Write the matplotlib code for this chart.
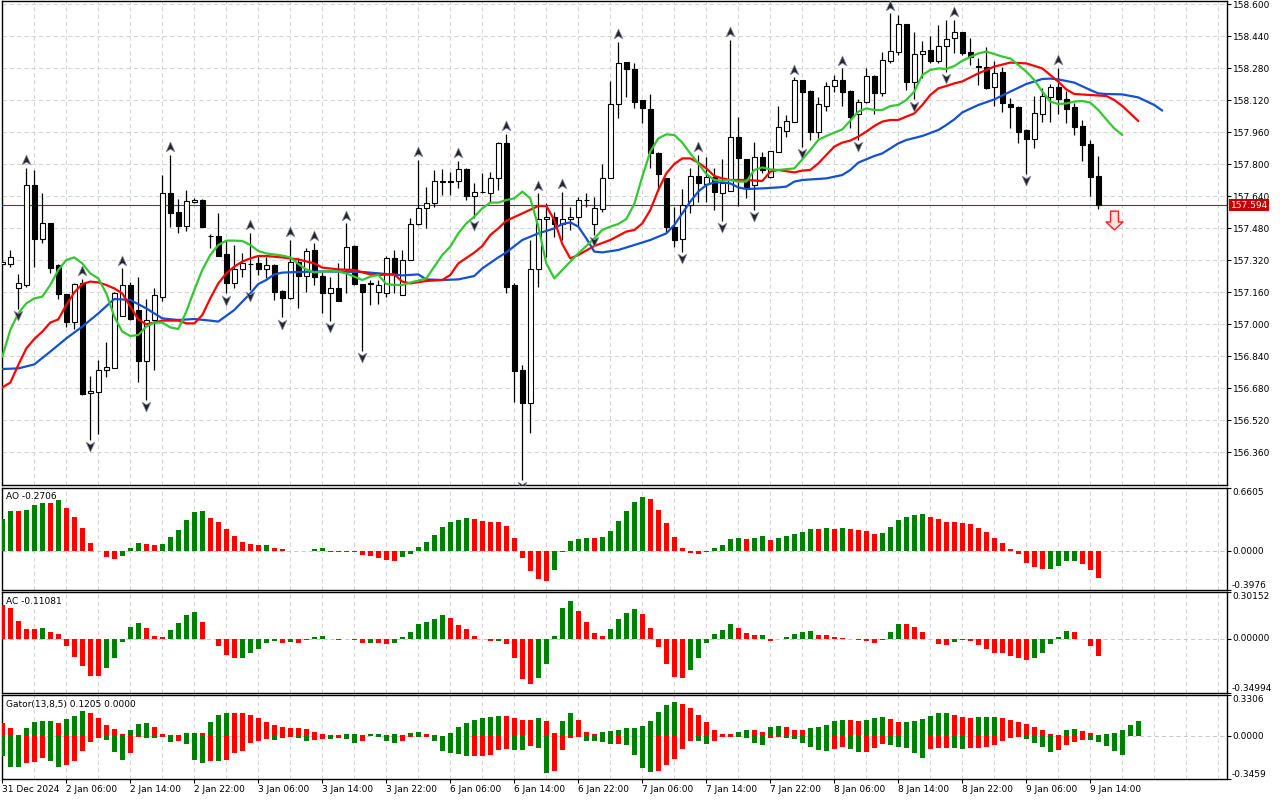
import matplotlib
matplotlib.use("Agg")
import matplotlib.pyplot as plt
from matplotlib.path import Path

plt.rcParams['font.family'] = ['DejaVu Sans']
FS = 6.5

# ---------------- data ----------------
opens = [157.300, 157.298, 157.178, 157.195, 157.695, 157.423, 157.503, 157.295, 157.150, 157.012,
         157.203, 156.653, 156.662, 156.770, 156.782, 157.042, 157.195, 157.070, 156.817, 157.020,
         157.137, 157.657, 157.562, 157.492, 157.608, 157.620, 157.442, 157.440, 157.350, 157.203,
         157.273, 157.300, 157.303, 157.273, 157.295, 157.165, 157.128, 157.308, 157.242, 157.370,
         157.240, 157.153, 157.178, 157.273, 157.390, 157.198, 157.205, 157.158, 157.153, 157.328,
         157.145, 157.320, 157.498, 157.578, 157.607, 157.712, 157.713, 157.715, 157.773, 157.642,
         157.660, 157.657, 157.732, 157.903, 157.195, 156.770, 156.603, 157.273, 157.523, 157.537,
         157.500, 157.525, 157.537, 157.620, 157.500, 157.573, 157.728, 158.098, 158.308, 158.275,
         158.120, 158.073, 157.857, 157.728, 157.483, 157.423, 157.595, 157.740, 157.700, 157.737,
         157.657, 157.667, 157.937, 157.823, 157.695, 157.837, 157.737, 157.862, 157.967, 158.012,
         158.220, 158.167, 157.962, 158.090, 158.190, 158.220, 158.167, 158.050, 158.108, 158.242,
         158.153, 158.317, 158.360, 158.500, 158.212, 158.350, 158.370, 158.317, 158.390, 158.428,
         158.458, 158.358, 158.290, 158.287, 158.187, 158.262, 158.100, 158.087, 157.970, 157.923,
         158.050, 158.137, 158.187, 158.125, 158.083, 157.990, 157.900, 157.740]
highs = [157.320, 157.370, 157.250, 157.780, 157.770, 157.657, 157.505, 157.300, 157.152, 157.203,
         157.225, 156.740, 156.820, 156.910, 157.160, 157.278, 157.212, 157.237, 157.123, 157.178,
         157.745, 157.845, 157.623, 157.670, 157.632, 157.623, 157.448, 157.553, 157.420, 157.395,
         157.353, 157.455, 157.345, 157.337, 157.300, 157.168, 157.420, 157.328, 157.378, 157.403,
         157.262, 157.237, 157.303, 157.503, 157.395, 157.200, 157.220, 157.220, 157.340, 157.370,
         157.370, 157.528, 157.820, 157.687, 157.770, 157.773, 157.762, 157.817, 157.778, 157.703,
         157.753, 157.762, 157.912, 157.950, 157.203, 156.795, 157.420, 157.653, 157.603, 157.560,
         157.662, 157.583, 157.637, 157.653, 157.637, 157.800, 158.217, 158.412, 158.312, 158.303,
         158.120, 158.150, 157.860, 157.730, 157.587, 157.673, 157.778, 157.845, 157.837, 157.778,
         157.823, 158.420, 158.037, 157.825, 157.912, 157.862, 157.867, 158.090, 158.045, 158.233,
         158.220, 158.168, 158.133, 158.212, 158.245, 158.278, 158.170, 158.125, 158.278, 158.243,
         158.360, 158.553, 158.545, 158.500, 158.462, 158.417, 158.440, 158.495, 158.520, 158.520,
         158.460, 158.428, 158.330, 158.387, 158.317, 158.287, 158.128, 158.090, 157.973, 158.140,
         158.178, 158.198, 158.282, 158.167, 158.103, 158.020, 157.920, 157.840]
lows = [157.290, 157.287, 157.075, 157.187, 157.283, 157.407, 157.253, 157.123, 156.983, 156.973,
        156.645, 156.420, 156.450, 156.737, 156.780, 157.040, 157.020, 156.708, 156.620, 156.770,
        157.117, 157.483, 157.457, 157.467, 157.607, 157.483, 157.382, 157.340, 157.153, 157.178,
        157.237, 157.170, 157.245, 157.228, 157.120, 157.033, 157.125, 157.078, 157.162, 157.195,
        157.053, 157.017, 157.113, 157.157, 157.195, 156.867, 157.095, 157.098, 157.137, 157.157,
        157.145, 157.320, 157.497, 157.478, 157.587, 157.645, 157.645, 157.678, 157.620, 157.528,
        157.657, 157.612, 157.670, 157.153, 156.612, 156.220, 156.453, 157.187, 157.337, 157.437,
        157.420, 157.470, 157.487, 157.583, 157.445, 157.562, 157.728, 158.028, 158.137, 158.078,
        158.007, 157.778, 157.670, 157.453, 157.387, 157.362, 157.553, 157.612, 157.612, 157.570,
        157.515, 157.665, 157.590, 157.628, 157.570, 157.753, 157.728, 157.862, 157.937, 158.012,
        157.887, 157.920, 157.928, 158.065, 158.162, 158.090, 157.978, 157.920, 158.107, 158.050,
        158.142, 158.303, 158.345, 158.170, 158.123, 158.228, 158.303, 158.303, 158.262, 158.353,
        158.345, 158.295, 158.195, 158.173, 158.090, 158.062, 157.978, 157.903, 157.750, 157.882,
        158.012, 158.012, 158.050, 158.007, 157.945, 157.815, 157.640, 157.573]
closes = [157.310, 157.337, 157.203, 157.695, 157.423, 157.503, 157.278, 157.148, 157.012, 157.198,
          156.650, 156.663, 156.770, 156.783, 157.153, 157.195, 157.025, 156.817, 157.020, 157.145,
          157.653, 157.557, 157.492, 157.615, 157.620, 157.483, 157.440, 157.342, 157.203, 157.273,
          157.303, 157.302, 157.273, 157.295, 157.162, 157.128, 157.312, 157.242, 157.365, 157.237,
          157.157, 157.178, 157.115, 157.387, 157.198, 157.158, 157.200, 157.195, 157.328, 157.248,
          157.320, 157.498, 157.578, 157.607, 157.715, 157.713, 157.712, 157.773, 157.640, 157.658,
          157.661, 157.732, 157.903, 157.187, 156.767, 156.603, 157.273, 157.523, 157.537, 157.500,
          157.527, 157.537, 157.620, 157.621, 157.578, 157.728, 158.098, 158.303, 158.273, 158.112,
          158.078, 157.857, 157.748, 157.483, 157.420, 157.595, 157.740, 157.703, 157.735, 157.662,
          157.705, 157.937, 157.828, 157.687, 157.833, 157.770, 157.865, 157.983, 158.015, 158.220,
          158.162, 157.962, 158.100, 158.190, 158.220, 158.162, 158.037, 158.108, 158.242, 158.157,
          158.320, 158.367, 158.500, 158.212, 158.350, 158.365, 158.317, 158.390, 158.423, 158.458,
          158.353, 158.333, 158.287, 158.182, 158.257, 158.103, 158.083, 157.962, 157.923, 158.053,
          158.140, 158.183, 158.125, 158.075, 157.987, 157.895, 157.737, 157.594]

fractal_up_bars = [3, 10, 15, 21, 31, 36, 39, 43, 52, 57, 63, 67, 70, 77, 87, 91, 99, 105, 111, 119, 132]
fractal_down_bars = [2, 11, 18, 28, 31, 35, 41, 45, 59, 65, 74, 85, 90, 94, 100, 107, 114, 118, 128]

jaw_bars = [0, 2, 4, 6, 8, 10, 12, 14, 16, 18, 20, 22, 24, 26, 27, 29, 31, 32, 33, 34, 35, 37, 40, 45,
            48, 50, 52, 53, 55, 57, 59, 60, 62, 63, 65, 67, 69, 70, 71, 72, 73, 74, 75, 77, 79, 81,
            83, 84, 85, 86, 87, 88, 89, 90, 91, 92, 93, 95, 97, 98, 99, 100, 103, 105, 106, 107, 109,
            110, 111, 112, 113, 115, 117, 118, 119, 120, 122, 124, 126, 128, 130, 131, 132, 134, 136,
            137, 138, 140, 142, 144, 145]
jaw_vals = [156.775, 156.778, 156.798, 156.862, 156.928, 156.987, 157.053, 157.125, 157.120, 157.078,
            157.028, 157.020, 157.025, 157.017, 157.012, 157.070, 157.153, 157.200, 157.220, 157.248,
            157.257, 157.260, 157.263, 157.260, 157.250, 157.243, 157.248, 157.223, 157.220, 157.223,
            157.240, 157.278, 157.333, 157.358, 157.420, 157.453, 157.478, 157.500, 157.508, 157.487,
            157.428, 157.362, 157.358, 157.370, 157.395, 157.420, 157.453, 157.495, 157.553, 157.612,
            157.662, 157.695, 157.708, 157.708, 157.703, 157.683, 157.675, 157.678, 157.683, 157.687,
            157.712, 157.720, 157.728, 157.745, 157.770, 157.807, 157.840, 157.853, 157.878, 157.903,
            157.920, 157.940, 157.970, 157.995, 158.023, 158.058, 158.095, 158.123, 158.162, 158.200,
            158.225, 158.227, 158.223, 158.207, 158.170, 158.153, 158.150, 158.148, 158.133, 158.095,
            158.067]

teeth_bars = [0, 1, 2, 3, 4, 5, 6, 7, 8, 9, 10, 11, 12, 13, 14, 15, 16, 17, 18, 19, 20, 22, 23, 24, 25,
              26, 27, 28, 29, 30, 31, 32, 33, 35, 37, 39, 40, 42, 44, 46, 47, 49, 50, 51, 53, 55, 56,
              57, 59, 60, 61, 62, 63, 65, 67, 68, 69, 70, 71, 72, 74, 76, 78, 79, 80, 81, 82, 83, 84,
              85, 86, 87, 88, 89, 90, 91, 93, 95, 96, 97, 99, 100, 101, 102, 103, 104, 105, 106, 107,
              108, 109, 110, 111, 112, 113, 114, 115, 116, 117, 118, 119, 120, 121, 122, 124, 126,
              128, 130, 131, 132, 133, 134, 136, 138, 139, 140, 141, 142]
teeth_vals = [156.683, 156.707, 156.795, 156.878, 156.925, 156.962, 157.007, 157.023, 157.095, 157.158,
              157.200, 157.212, 157.208, 157.195, 157.178, 157.153, 157.087, 157.023, 156.998, 157.007,
              157.017, 157.017, 157.003, 157.003, 157.045, 157.128, 157.203, 157.253, 157.287, 157.312,
              157.328, 157.340, 157.340, 157.333, 157.323, 157.303, 157.282, 157.273, 157.270, 157.248,
              157.245, 157.248, 157.212, 157.203, 157.215, 157.220, 157.245, 157.303, 157.357, 157.390,
              157.445, 157.478, 157.516, 157.553, 157.590, 157.590, 157.520, 157.400, 157.328, 157.345,
              157.390, 157.420, 157.462, 157.470, 157.503, 157.570, 157.670, 157.753, 157.800, 157.828,
              157.828, 157.807, 157.778, 157.740, 157.728, 157.720, 157.720, 157.715, 157.762, 157.770,
              157.758, 157.767, 157.770, 157.803, 157.845, 157.887, 157.907, 157.917, 157.937, 157.962,
              157.990, 158.012, 158.020, 158.020, 158.037, 158.053, 158.095, 158.145, 158.178, 158.190,
              158.203, 158.213, 158.233, 158.253, 158.287, 158.307, 158.303, 158.278, 158.245, 158.212,
              158.173, 158.150, 158.145, 158.140, 158.120, 158.090, 158.053, 158.015]

lips_bars = list(range(0, 33)) + [33, 35] + list(range(36, 98)) + list(range(99, 141))
lips_vals = [156.837, 156.970, 157.053, 157.103, 157.128, 157.137, 157.195, 157.270, 157.320, 157.333,
             157.303, 157.253, 157.228, 157.153, 157.037, 156.962, 156.940, 156.945, 156.987, 157.007,
             157.007, 156.983, 156.975, 157.062, 157.170, 157.270, 157.345, 157.395, 157.417, 157.417,
             157.415, 157.395, 157.365,
             157.353, 157.342,
             157.333, 157.300, 157.273, 157.258, 157.262, 157.267, 157.262, 157.253, 157.237, 157.220,
             157.237, 157.245, 157.200, 157.195, 157.195, 157.207, 157.217, 157.228, 157.287, 157.345,
             157.387, 157.453, 157.503, 157.537, 157.578, 157.607, 157.607, 157.620, 157.628, 157.662,
             157.628, 157.487, 157.303, 157.228, 157.270, 157.312, 157.353, 157.390, 157.428, 157.470,
             157.487, 157.500, 157.525, 157.600, 157.737, 157.862, 157.928, 157.948, 157.945, 157.907,
             157.853, 157.803, 157.750, 157.720, 157.717, 157.720, 157.712, 157.712, 157.770, 157.783,
             157.773, 157.770,
             157.778, 157.823, 157.870, 157.920, 157.940, 157.957, 157.973, 158.017, 158.062, 158.078,
             158.070, 158.070, 158.090, 158.095, 158.120, 158.162, 158.245, 158.270, 158.278, 158.275,
             158.290, 158.316, 158.335, 158.353, 158.362, 158.350, 158.337, 158.328, 158.295, 158.262,
             158.220, 158.162, 158.112, 158.100, 158.103, 158.112, 158.115, 158.107, 158.070, 158.023,
             157.978, 157.945]

ao_values = [0.336, 0.421, 0.419, 0.432, 0.483, 0.503, 0.501, 0.534, 0.452, 0.360,
             0.247, 0.092, 0.007, -0.058, -0.079, -0.048, 0.041, 0.092, 0.082, 0.062,
             0.082, 0.154, 0.226, 0.329, 0.411, 0.421, 0.349, 0.308, 0.236, 0.164,
             0.103, 0.082, 0.062, 0.063, 0.041, 0.021, 0.010, 0.002, 0.004, 0.021,
             0.031, -0.003, -0.004, -0.001, -0.004, -0.038, -0.048, -0.068, -0.089, -0.099,
             -0.058, -0.027, 0.051, 0.103, 0.175, 0.257, 0.308, 0.329, 0.349, 0.339,
             0.318, 0.308, 0.307, 0.267, 0.144, -0.068, -0.202, -0.284, -0.305, -0.192,
             -0.003, 0.113, 0.134, 0.144, 0.143, 0.154, 0.216, 0.318, 0.421, 0.514,
             0.565, 0.545, 0.432, 0.298, 0.154, 0.041, -0.017, -0.027, -0.002, 0.031,
             0.062, 0.134, 0.144, 0.134, 0.144, 0.164, 0.123, 0.144, 0.164, 0.185,
             0.205, 0.236, 0.235, 0.247, 0.236, 0.247, 0.236, 0.226, 0.216, 0.185,
             0.195, 0.257, 0.329, 0.360, 0.380, 0.390, 0.360, 0.339, 0.308, 0.307,
             0.298, 0.288, 0.247, 0.205, 0.144, 0.092, 0.021, -0.027, -0.120, -0.161,
             -0.182, -0.181, -0.151, -0.099, -0.098, -0.130, -0.192, -0.2706]

ac_values = [0.220, 0.199, 0.112, 0.065, 0.064, 0.071, 0.045, 0.032, -0.045, -0.117,
             -0.175, -0.240, -0.241, -0.188, -0.123, -0.024, 0.078, 0.104, 0.071, 0.019,
             0.013, 0.058, 0.104, 0.156, 0.175, 0.110, -0.003, -0.050, -0.104, -0.127,
             -0.126, -0.095, -0.069, -0.030, -0.017, -0.030, -0.024, -0.025, -0.011, 0.013,
             0.019, -0.004, -0.005, 0.000, -0.011, -0.030, -0.029, -0.030, -0.037, -0.030,
             0.013, 0.045, 0.097, 0.110, 0.130, 0.156, 0.136, 0.091, 0.065, 0.019,
             -0.002, -0.017, -0.016, -0.037, -0.127, -0.257, -0.289, -0.250, -0.160, 0.019,
             0.201, 0.246, 0.181, 0.110, 0.039, 0.019, 0.065, 0.130, 0.168, 0.194,
             0.162, 0.071, -0.056, -0.166, -0.244, -0.250, -0.199, -0.121, -0.030, 0.032,
             0.058, 0.097, 0.071, 0.039, 0.026, 0.0265, -0.017, -0.002, 0.013, 0.032,
             0.045, 0.052, 0.026, 0.025, 0.013, 0.006, -0.002, -0.011, -0.017, -0.030,
             -0.011, 0.045, 0.097, 0.096, 0.078, 0.045, -0.004, -0.037, -0.043, -0.024,
             -0.011, -0.017, -0.043, -0.063, -0.089, -0.095, -0.114, -0.121, -0.140, -0.121,
             -0.089, -0.037, 0.013, 0.052, 0.045, -0.004, -0.050, -0.11081]

gator_upper = [0.107, 0.066, 0.008, 0.066, 0.112, 0.121, 0.122, 0.104, 0.140, 0.164,
               0.203, 0.186, 0.145, 0.090, 0.055, 0.016, 0.049, 0.096, 0.107, 0.074,
               0.016, 0.005, 0.011, 0.025, 0.027, 0.022, 0.112, 0.170, 0.186, 0.1855,
               0.185, 0.170, 0.148, 0.115, 0.090, 0.074, 0.066, 0.063, 0.058, 0.033,
               0.016, 0.008, 0.005, 0.016, 0.017, 0.008, 0.014, 0.016, 0.011, 0.016,
               0.008, 0.022, 0.030, 0.014, 0.005, 0.004, 0.022, 0.074, 0.107, 0.129,
               0.145, 0.153, 0.162, 0.161, 0.145, 0.132, 0.131, 0.145, 0.120, 0.022,
               0.120, 0.186, 0.129, 0.030, 0.019, 0.030, 0.038, 0.047, 0.063, 0.066,
               0.082, 0.123, 0.195, 0.252, 0.277, 0.260, 0.227, 0.170, 0.112, 0.047,
               0.016, 0.014, 0.030, 0.047, 0.046, 0.030, 0.071, 0.079, 0.071, 0.047,
               0.046, 0.063, 0.071, 0.088, 0.120, 0.129, 0.128, 0.120, 0.129, 0.145,
               0.153, 0.137, 0.112, 0.113, 0.120, 0.137, 0.162, 0.186, 0.187, 0.170,
               0.153, 0.145, 0.153, 0.1535, 0.154, 0.145, 0.132, 0.112, 0.096, 0.071,
               0.049, 0.016, 0.008, 0.049, 0.058, 0.044, 0.025, 0.008, 0.016, 0.025,
               0.049, 0.090, 0.1205]
gator_lower = [0.164, 0.249, 0.250, 0.214, 0.213, 0.173, 0.197, 0.247, 0.236, 0.197,
               0.123, 0.049, 0.016, 0.033, 0.132, 0.189, 0.140, 0.008, 0.014, 0.016,
               0.005, 0.049, 0.041, 0.066, 0.192, 0.214, 0.200, 0.201, 0.192, 0.140,
               0.118, 0.055, 0.036, 0.027, 0.028, 0.014, 0.008, 0.014, 0.041, 0.033,
               0.022, 0.025, 0.016, 0.022, 0.055, 0.038, 0.001, 0.011, 0.038, 0.055,
               0.038, 0.005, 0.011, 0.008, 0.041, 0.118, 0.140, 0.148, 0.164, 0.163,
               0.162, 0.156, 0.115, 0.107, 0.115, 0.116, 0.082, 0.099, 0.296, 0.279,
               0.115, 0.016, 0.011, 0.041, 0.042, 0.049, 0.066, 0.065, 0.074, 0.156,
               0.255, 0.288, 0.279, 0.236, 0.181, 0.104, 0.038, 0.041, 0.066, 0.041,
               0.005, 0.004, 0.008, 0.016, 0.058, 0.074, 0.016, 0.008, 0.016, 0.025,
               0.058, 0.090, 0.115, 0.123, 0.107, 0.090, 0.107, 0.132, 0.131, 0.099,
               0.066, 0.074, 0.090, 0.099, 0.140, 0.173, 0.107, 0.099, 0.098, 0.099,
               0.107, 0.099, 0.098, 0.090, 0.074, 0.041, 0.016, 0.005, 0.025, 0.058,
               0.090, 0.132, 0.115, 0.071, 0.049, 0.033, 0.034, 0.049, 0.082, 0.123,
               0.156]

price_ticks = [158.600, 158.440, 158.280, 158.120, 157.960, 157.800, 157.640, 157.480,
               157.320, 157.160, 157.000, 156.840, 156.680, 156.520, 156.360]
last_price = 157.594
sell_signal = (138.9, 157.522)

time_label_bars = [0, 8, 16, 24, 32, 40, 48, 56, 64, 72, 80, 88, 96, 104, 112, 120, 128, 136]
time_labels = ["31 Dec 2024", "2 Jan 06:00", "2 Jan 14:00", "2 Jan 22:00", "3 Jan 06:00",
               "3 Jan 14:00", "3 Jan 22:00", "6 Jan 06:00", "6 Jan 14:00", "6 Jan 22:00",
               "7 Jan 06:00", "7 Jan 14:00", "7 Jan 22:00", "8 Jan 06:00", "8 Jan 14:00",
               "8 Jan 22:00", "9 Jan 06:00", "9 Jan 14:00"]

ao_range = (-0.3976, 0.6605)
ac_range = (-0.34994, 0.30152)
gator_range = (-0.3459, 0.3306)

# ---------------- styling ----------------
GREEN = '#008000'
RED = '#ff0000'
GRID = '#d4d4d4'
W, H = 1280, 800
fig = plt.figure(figsize=(12.8, 8), dpi=100, facecolor='white')


def px_axes(top, bottom, left=2, right=1227):
    a = fig.add_axes([left / W, 1 - bottom / H, (right - left) / W, (bottom - top) / H])
    for s in a.spines.values():
        s.set_linewidth(1.0)
        s.set_color('black')
    return a


ax = px_axes(1, 485)
ax_ao = px_axes(487.5, 590)
ax_ac = px_axes(592, 693)
ax_g = px_axes(695, 779)
axes = [ax, ax_ao, ax_ac, ax_g]

XL = (-0.0375, -0.0375 + 1225 / 8)
n = len(opens)
idx = list(range(n))
for a in axes:
    a.set_xlim(*XL)
    a.set_facecolor('white')
    for b in range(4, 154, 4):
        a.axvline(b, color=GRID, lw=0.75, ls=(0, (4, 3)), zorder=0)

# ---------------- main price panel ----------------
ax.set_ylim(158.62 - 485 / 200, 158.62 - 1 / 200)
for p in price_ticks:
    ax.axhline(p, color=GRID, lw=0.75, ls=(0, (4, 3)), zorder=0)

ax.axhline(last_price, color='#e00000', lw=0.8, zorder=2)

ax.vlines(idx, lows, highs, color='black', lw=0.9, zorder=3)
bottoms = [min(o, c) for o, c in zip(opens, closes)]
heights = [max(abs(c - o), 0.0012) for o, c in zip(opens, closes)]
body_cols = ['white' if c >= o else 'black' for o, c in zip(opens, closes)]
ax.bar(idx, heights, bottom=bottoms, width=0.62, color=body_cols, edgecolor='black',
       linewidth=0.8, zorder=4)

ax.plot(jaw_bars, jaw_vals, color='#1450d2', lw=1.6, zorder=5, solid_capstyle='round')
ax.plot(teeth_bars, teeth_vals, color='#ff0000', lw=1.6, zorder=5, solid_capstyle='round')
ax.plot(lips_bars, lips_vals, color='#32c832', lw=1.6, zorder=5, solid_capstyle='round')

up_marker = Path([(0, 1), (0.8, -0.8), (0, -0.3), (-0.8, -0.8), (0, 1)],
                 [Path.MOVETO, Path.LINETO, Path.LINETO, Path.LINETO, Path.CLOSEPOLY])
dn_marker = Path([(0, -1), (0.8, 0.8), (0, 0.3), (-0.8, 0.8), (0, -1)],
                 [Path.MOVETO, Path.LINETO, Path.LINETO, Path.LINETO, Path.CLOSEPOLY])
ax.plot(fractal_up_bars, [highs[i] + 0.038 for i in fractal_up_bars], ls='none',
        marker=up_marker, ms=8, mfc='#262626', mec='#8a90b0', mew=0.5, zorder=6)
ax.plot(fractal_down_bars, [lows[i] - 0.032 for i in fractal_down_bars], ls='none',
        marker=dn_marker, ms=8, mfc='#262626', mec='#8a90b0', mew=0.5, zorder=6)

arrow_marker = Path([(-4, 9.5), (4, 9.5), (4, -1.5), (8.6, -1.5), (0, -9.5), (-8.6, -1.5),
                     (-4, -1.5), (-4, 9.5)],
                    [Path.MOVETO] + [Path.LINETO] * 6 + [Path.CLOSEPOLY])
ax.plot([sell_signal[0]], [sell_signal[1]], ls='none', marker=arrow_marker, ms=13.5,
        mfc='#ffe2dc', mec='#ff1a1a', mew=1.0, zorder=6, clip_on=False)

ax.yaxis.tick_right()
ax.set_yticks(price_ticks)
ax.set_yticklabels([f"{p:.3f}" for p in price_ticks])
ax.tick_params(axis='y', direction='out', length=3, width=0.8, pad=1.2, labelsize=FS)
ax.set_xticks([])

ax.annotate(f"{last_price:.3f}", xy=(1.0, last_price), xycoords=('axes fraction', 'data'),
            xytext=(2.5, 0), textcoords='offset points', ha='left', va='center',
            fontsize=FS, color='white',
            bbox=dict(boxstyle='square,pad=0.18', fc='#c80000', ec='none'), zorder=10,
            annotation_clip=False)


# ---------------- indicator panels ----------------
def rising_colors(vals, first):
    cols = [first]
    for i in range(1, len(vals)):
        cols.append(GREEN if vals[i] > vals[i - 1] else RED)
    return cols


def setup_sub(a, rng, fmt, title):
    a.set_ylim(*rng)
    a.axhline(0, color='#c8c8c8', lw=0.75, ls=(0, (4, 3)), zorder=1)
    a.yaxis.tick_right()
    a.set_yticks([rng[0], 0, rng[1]])
    a.set_yticklabels([])
    a.tick_params(axis='y', direction='out', length=3, width=0.8)
    tr = a.get_yaxis_transform()
    off = 5 / 1225
    a.text(1 + off, rng[1], fmt.format(rng[1]), transform=tr, ha='left', va='top', fontsize=FS)
    a.text(1 + off, 0, fmt.format(0.0), transform=tr, ha='left', va='center', fontsize=FS)
    a.text(1 + off, rng[0], fmt.format(rng[0]), transform=tr, ha='left', va='bottom', fontsize=FS)
    h = a.get_position().height * H
    a.text(4 / 1225, 1 - 4.5 / h, title, transform=a.transAxes, ha='left', va='top', fontsize=FS)


ax_ao.bar(idx, ao_values, width=0.56, color=rising_colors(ao_values, GREEN), linewidth=0, zorder=3)
setup_sub(ax_ao, ao_range, "{:.4f}", f"AO {ao_values[-1]:.4f}")
ax_ao.set_xticks([])

ax_ac.bar(idx, ac_values, width=0.56, color=rising_colors(ac_values, RED), linewidth=0, zorder=3)
setup_sub(ax_ac, ac_range, "{:.5f}", f"AC {ac_values[-1]:.5f}")
ax_ac.set_xticks([])

gu_idx = list(range(len(gator_upper)))
gl_idx = list(range(len(gator_lower)))
ax_g.bar(gu_idx, gator_upper, width=0.56, color=rising_colors(gator_upper, RED), linewidth=0, zorder=3)
ax_g.bar(gl_idx, [-v for v in gator_lower], width=0.56, color=rising_colors(gator_lower, GREEN),
         linewidth=0, zorder=3)
setup_sub(ax_g, gator_range, "{:.4f}", f"Gator(13,8,5) {gator_upper[-1]:.4f} 0.0000")

ax_g.set_xticks(time_label_bars)
ax_g.set_xticklabels(time_labels, ha='left', fontsize=FS)
ax_g.tick_params(axis='x', direction='out', length=3, width=0.8, pad=1.5)

fig.savefig('out.png', dpi=100, facecolor='white')
